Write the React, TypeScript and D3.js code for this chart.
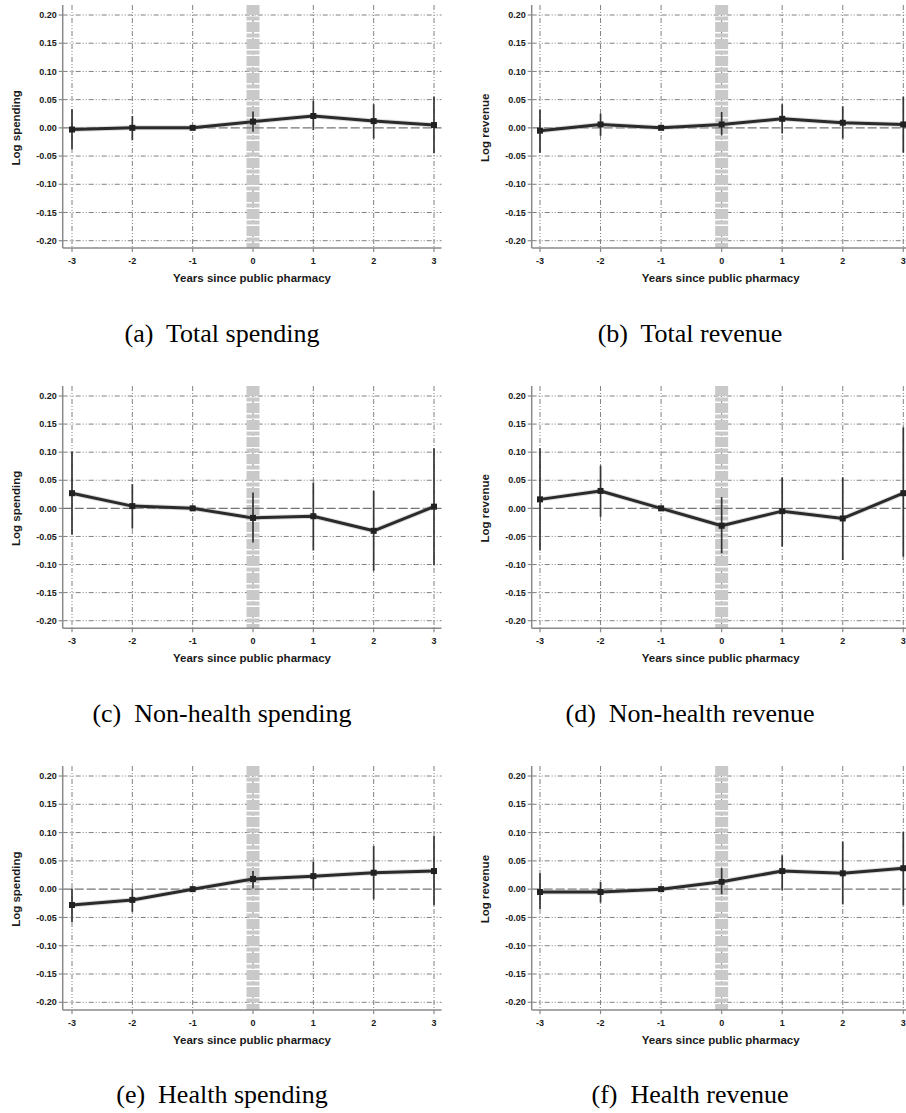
import React from "react";
import { scaleLinear, line } from "d3";

// event time
const years = [-3, -2, -1, 0, 1, 2, 3];
const yTicks = [0.2, 0.15, 0.1, 0.05, 0, -0.05, -0.1, -0.15, -0.2];

// (a) total spending
const totalSpendEst = [-0.003, 0.0, 0, 0.011, 0.021, 0.012, 0.005];
const totalSpendLo = [-0.038, -0.022, 0, -0.007, -0.004, -0.019, -0.045];
const totalSpendHi = [0.033, 0.021, 0, 0.029, 0.048, 0.042, 0.055];

// (b) total revenue
const totalRevEst = [-0.005, 0.006, 0, 0.006, 0.016, 0.009, 0.006];
const totalRevLo = [-0.044, -0.014, 0, -0.013, -0.01, -0.019, -0.044];
const totalRevHi = [0.032, 0.025, 0, 0.028, 0.042, 0.038, 0.055];

// (c) non-health spending
const nonHealthSpendEst = [0.027, 0.004, 0, -0.017, -0.014, -0.04, 0.003];
const nonHealthSpendLo = [-0.047, -0.036, 0, -0.061, -0.075, -0.111, -0.101];
const nonHealthSpendHi = [0.101, 0.043, 0, 0.028, 0.046, 0.031, 0.107];

// (d) non-health revenue
const nonHealthRevEst = [0.016, 0.031, 0, -0.031, -0.005, -0.018, 0.027];
const nonHealthRevLo = [-0.075, -0.015, 0, -0.08, -0.068, -0.092, -0.086];
const nonHealthRevHi = [0.107, 0.076, 0, 0.02, 0.055, 0.055, 0.144];

// (e) health spending
const healthSpendEst = [-0.028, -0.019, 0, 0.018, 0.023, 0.029, 0.032];
const healthSpendLo = [-0.058, -0.04, 0, 0.001, -0.002, -0.018, -0.029];
const healthSpendHi = [0.001, 0.001, 0, 0.032, 0.048, 0.076, 0.094];

// (f) health revenue
const healthRevEst = [-0.005, -0.005, 0, 0.013, 0.032, 0.028, 0.037];
const healthRevLo = [-0.035, -0.024, 0, -0.009, -0.002, -0.027, -0.029];
const healthRevHi = [0.028, 0.013, 0, 0.037, 0.06, 0.084, 0.101];

const panels = [
  { caption: "(a)  Total spending", ylab: "Log spending", est: totalSpendEst, lo: totalSpendLo, hi: totalSpendHi, col: 0, row: 0 },
  { caption: "(b)  Total revenue", ylab: "Log revenue", est: totalRevEst, lo: totalRevLo, hi: totalRevHi, col: 1, row: 0 },
  { caption: "(c)  Non-health spending", ylab: "Log spending", est: nonHealthSpendEst, lo: nonHealthSpendLo, hi: nonHealthSpendHi, col: 0, row: 1 },
  { caption: "(d)  Non-health revenue", ylab: "Log revenue", est: nonHealthRevEst, lo: nonHealthRevLo, hi: nonHealthRevHi, col: 1, row: 1 },
  { caption: "(e)  Health spending", ylab: "Log spending", est: healthSpendEst, lo: healthSpendLo, hi: healthSpendHi, col: 0, row: 2 },
  { caption: "(f)  Health revenue", ylab: "Log revenue", est: healthRevEst, lo: healthRevLo, hi: healthRevHi, col: 1, row: 2 },
];

const cols = [
  { axisX: 62.7, x0: 72, x1: 434, right: 441.5, capX: 222 },
  { axisX: 531.7, x0: 540, x1: 903.3, right: 911, capX: 690 },
];
const rows = [
  { top: 15, bottom: 240.7, base: 248, cap: 342 },
  { top: 396, bottom: 620.7, base: 628.3, cap: 722 },
  { top: 776, bottom: 1002.3, base: 1010, cap: 1103 },
];

const sans = "'Liberation Sans', Arial, Helvetica, sans-serif";

function Panel({ p }) {
  const c = cols[p.col];
  const r = rows[p.row];
  const x = scaleLinear().domain([-3, 3]).range([c.x0, c.x1]);
  const y = scaleLinear().domain([-0.2, 0.2]).range([r.bottom, r.top]);
  const axTop = r.top - 10;
  const pts = years.map((yr, i) => ({ yr, v: p.est[i] }));
  const path = line().x(d => x(d.yr)).y(d => y(d.v))(pts);
  const grid = "5,2,1,2,1,2";

  return (
    <g>
      {/* grid */}
      {yTicks.filter(t => t !== 0).map(t => (
        <line key={"h" + t} x1={c.axisX} x2={c.right} y1={y(t)} y2={y(t)}
          stroke="#808080" strokeWidth={1} strokeDasharray={grid} />
      ))}
      {years.map(t => (
        <line key={"v" + t} x1={x(t)} x2={x(t)} y1={axTop} y2={r.base}
          stroke="#808080" strokeWidth={1} strokeDasharray={grid} />
      ))}
      {/* treatment band */}
      <line x1={x(0)} x2={x(0)} y1={axTop} y2={r.base} stroke="#c9c9c9"
        strokeWidth={13} strokeDasharray="10,1.5,4,1.5" />
      <line x1={c.axisX} x2={c.right} y1={y(0)} y2={y(0)} stroke="#747474"
        strokeWidth={1.3} strokeDasharray="9,3" />

      {/* axes */}
      <line x1={c.axisX} x2={c.axisX} y1={axTop} y2={r.base} stroke="#8a8a8a" strokeWidth={1.5} />
      <line x1={c.axisX} x2={c.right} y1={r.base} y2={r.base} stroke="#8a8a8a" strokeWidth={1.5} />
      {yTicks.map((t, i) => (
        <g key={"yt" + i}>
          <line x1={c.axisX - 4} x2={c.axisX} y1={y(t)} y2={y(t)} stroke="#8a8a8a" strokeWidth={1.2} />
          <text x={c.axisX - 6} y={y(t)} dy="0.35em" textAnchor="end" fontFamily={sans}
            fontWeight="bold" fontSize={9} fill="#1a1a1a">{t.toFixed(2)}</text>
        </g>
      ))}
      {years.map(t => (
        <g key={"xt" + t}>
          <line x1={x(t)} x2={x(t)} y1={r.base} y2={r.base + 4} stroke="#8a8a8a" strokeWidth={1.2} />
          <text x={x(t)} y={r.base + 16} textAnchor="middle" fontFamily={sans}
            fontWeight="bold" fontSize={9} fill="#1a1a1a">{t}</text>
        </g>
      ))}
      <text x={(c.x0 + c.x1) / 2 - 1} y={r.base + 34} textAnchor="middle" fontFamily={sans}
        fontWeight="bold" fontSize={11.5} fill="#1a1a1a">Years since public pharmacy</text>
      <text transform={`translate(${c.axisX - 43},${y(0)}) rotate(-90)`} textAnchor="middle"
        fontFamily={sans} fontWeight="bold" fontSize={11.5} fill="#1a1a1a">{p.ylab}</text>

      {/* confidence intervals */}
      {years.map((t, i) => p.hi[i] !== p.lo[i] && (
        <line key={"ci" + t} x1={x(t)} x2={x(t)} y1={y(p.lo[i])} y2={y(p.hi[i])}
          stroke="#353535" strokeWidth={1.7} />
      ))}
      {/* estimates */}
      <path d={path} fill="none" stroke="#bbb" strokeWidth={5} opacity={0.5} />
      <path d={path} fill="none" stroke="#2b2b2b" strokeWidth={3} strokeLinejoin="round" />
      {years.map((t, i) => (
        <rect key={"m" + t} x={x(t) - 3} y={y(p.est[i]) - 3} width={6} height={6} fill="#222" />
      ))}

      <text x={c.capX} y={r.cap} textAnchor="middle" fontFamily="'Liberation Serif', 'Times New Roman', serif"
        fontSize={26} fill="#000" style={{ whiteSpace: "pre" }}>{p.caption}</text>
    </g>
  );
}

export default function App() {
  return (
    <svg width={906} height={1113} style={{ position: "absolute", left: 0, top: 0, background: "#fff" }}>
      <rect width={906} height={1113} fill="#fff" />
      {panels.map((p, i) => <Panel key={i} p={p} />)}
    </svg>
  );
}
